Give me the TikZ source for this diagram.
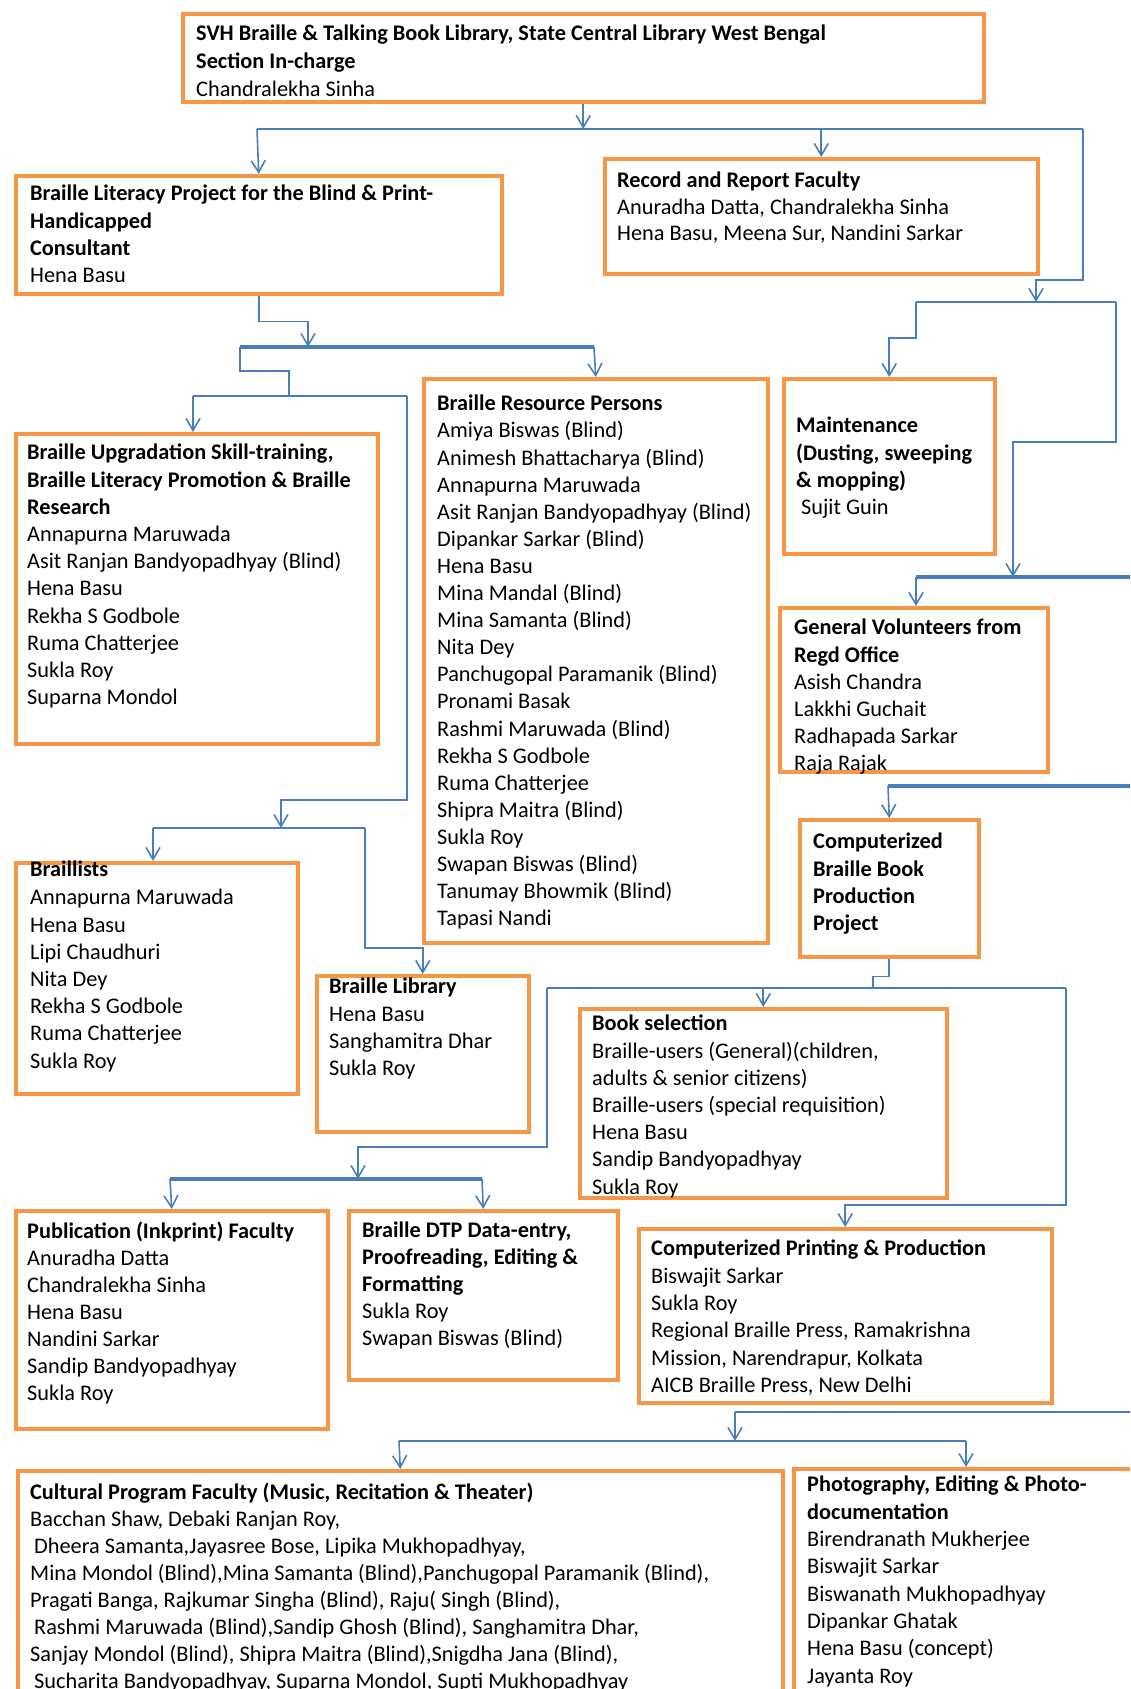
\documentclass[tikz,border=0pt]{standalone}
\usepackage{fontspec}
\setmainfont{Carlito}
\usetikzlibrary{positioning,arrows.meta}
\definecolor{boxorange}{HTML}{F79646}
\definecolor{linkblue}{HTML}{4A7EBB}
\tikzset{dbox/.style={draw=boxorange, line width=3.5pt, anchor=north west, inner sep=0pt}}
\tikzset{dtxt/.style={anchor=north west, yshift=19pt, align=left, inner sep=0pt,
  font=\fontsize{22.3}{27.2}\selectfont, execute at begin node=\strut}}
\tikzset{arr/.style={draw=linkblue, line width=1.6pt}}
\tikzset{bar/.style={draw=linkblue, line width=3.4pt}}

\begin{document}
\begin{tikzpicture}[x=1pt, y=-1pt, >={Straight Barb[length=12pt,width=14pt]}]
\useasboundingbox (0,0) rectangle (1130,1689);
\clip (0,0) rectangle (1130,1689);
% boxes
\node[dbox, minimum width=801, minimum height=88] (SVH) at (181,12) {};
\node[dbox, minimum width=486, minimum height=118] (BLP) at (14,174) {};
\node[dbox, minimum width=433, minimum height=115] (RRF) at (603,157) {};
\node[dbox, minimum width=362, minimum height=310] (BU) at (14,432) {};
\node[dbox, minimum width=344, minimum height=564] (BRP) at (422,377) {};
\node[dbox, minimum width=211, minimum height=175] (MNT) at (782,377) {};
\node[dbox, minimum width=268, minimum height=164] (GV) at (778,606) {};
\node[dbox, minimum width=179, minimum height=137] (CBB) at (798,818) {};
\node[dbox, minimum width=282, minimum height=231] (BRL) at (14,861) {};
\node[dbox, minimum width=212, minimum height=156] (BLIB) at (315,974) {};
\node[dbox, minimum width=367, minimum height=189] (BS) at (578,1007) {};
\node[dbox, minimum width=312, minimum height=218] (PUB) at (14,1209) {};
\node[dbox, minimum width=269, minimum height=169] (DTP) at (347,1209) {};
\node[dbox, minimum width=413, minimum height=174] (CP) at (637,1227) {};
\node[dbox, minimum width=765, minimum height=300] (CPF) at (16,1469) {};
\node[dbox, minimum width=400, minimum height=300] (PHO) at (792,1467) {};
%
\node[dtxt, font=\fontsize{22.3}{28}\selectfont] (SVH-t) at ([shift={(15,32)}]SVH.north west)
  {\textbf{SVH Braille \& Talking Book Library, State Central Library West Bengal}\\
   \textbf{Section In-charge}\\ Chandralekha Sinha};
\node[dtxt] (BLP-t) at ([shift={(16,30)}]BLP.north west)
  {\textbf{Braille Literacy Project for the Blind \& Print-}\\ \textbf{Handicapped}\\
   \textbf{Consultant}\\ Hena Basu};
\node[dtxt, font=\fontsize{22.3}{26.5}\selectfont] (RRF-t) at ([shift={(14,34)}]RRF.north west)
  {\textbf{Record and Report Faculty}\\ Anuradha Datta, Chandralekha Sinha\\
   Hena Basu, Meena Sur, Nandini Sarkar};
\node[dtxt] (BU-t) at ([shift={(13,31)}]BU.north west)
  {\textbf{Braille Upgradation Skill-training,}\\ \textbf{Braille Literacy Promotion \& Braille}\\
   \textbf{Research}\\ Annapurna Maruwada\\ Asit Ranjan Bandyopadhyay (Blind)\\ Hena Basu\\
   Rekha S Godbole\\ Ruma Chatterjee\\ Sukla Roy\\ Suparna Mondol};
\node[dtxt, font=\fontsize{22.3}{27.1}\selectfont] (BRP-t) at ([shift={(15,37)}]BRP.north west)
  {\textbf{Braille Resource Persons}\\ Amiya Biswas (Blind)\\ Animesh Bhattacharya (Blind)\\
   Annapurna Maruwada\\ Asit Ranjan Bandyopadhyay (Blind)\\ Dipankar Sarkar (Blind)\\
   Hena Basu\\ Mina Mandal (Blind)\\ Mina Samanta (Blind)\\ Nita Dey\\
   Panchugopal Paramanik (Blind)\\ Pronami Basak\\ Rashmi Maruwada (Blind)\\
   Rekha S Godbole\\ Ruma Chatterjee\\ Shipra Maitra (Blind)\\ Sukla Roy\\
   Swapan Biswas (Blind)\\ Tanumay Bhowmik (Blind)\\ Tapasi Nandi};
\node[dtxt] (MNT-t) at ([shift={(14,59)}]MNT.north west)
  {\textbf{Maintenance}\\ \textbf{(Dusting, sweeping}\\ \textbf{\& mopping)}\\ \hspace{5pt}Sujit Guin};
\node[dtxt] (GV-t) at ([shift={(16,32)}]GV.north west)
  {\textbf{General Volunteers from}\\ \textbf{Regd Office}\\ Asish Chandra\\ Lakkhi Guchait\\
   Radhapada Sarkar\\ Raja Rajak};
\node[dtxt] (CBB-t) at ([shift={(15,34)}]CBB.north west)
  {\textbf{Computerized}\\ \textbf{Braille Book}\\ \textbf{Production}\\ \textbf{Project}};
\node[dtxt] (BRL-t) at ([shift={(16,19)}]BRL.north west)
  {\textbf{Braillists}\\[0.8pt] Annapurna Maruwada\\ Hena Basu\\ Lipi Chaudhuri\\ Nita Dey\\
   Rekha S Godbole\\ Ruma Chatterjee\\ Sukla Roy};
\node[dtxt] (BLIB-t) at ([shift={(14,23)}]BLIB.north west)
  {\textbf{Braille Library}\\ Hena Basu\\ Sanghamitra Dhar\\ Sukla Roy};
\node[dtxt] (BS-t) at ([shift={(14,27)}]BS.north west)
  {\textbf{Book selection}\\ Braille-users (General)(children,\\ adults \& senior citizens)\\
   Braille-users (special requisition)\\ Hena Basu\\ Sandip Bandyopadhyay\\ Sukla Roy};
\node[dtxt, font=\fontsize{22.3}{26.9}\selectfont] (PUB-t) at ([shift={(13,32)}]PUB.north west)
  {\textbf{Publication (Inkprint) Faculty}\\ Anuradha Datta\\ Chandralekha Sinha\\ Hena Basu\\
   Nandini Sarkar\\ Sandip Bandyopadhyay\\ Sukla Roy};
\node[dtxt, font=\fontsize{22.3}{26.9}\selectfont] (DTP-t) at ([shift={(15,32)}]DTP.north west)
  {\textbf{Braille DTP Data-entry,}\\ \textbf{Proofreading, Editing \&}\\ \textbf{Formatting}\\
   Sukla Roy\\ Swapan Biswas (Blind)};
\node[dtxt, font=\fontsize{22.3}{27.3}\selectfont] (CP-t) at ([shift={(14,32)}]CP.north west)
  {\textbf{Computerized Printing \& Production}\\ Biswajit Sarkar\\ Sukla Roy\\
   Regional Braille Press, Ramakrishna\\ Mission, Narendrapur, Kolkata\\ AICB Braille Press, New Delhi};
\node[dtxt, font=\fontsize{22.3}{27}\selectfont] (CPF-t) at ([shift={(14,33)}]CPF.north west)
  {\textbf{Cultural Program Faculty (Music, Recitation \& Theater)}\\
   Bacchan Shaw, Debaki Ranjan Roy,\\
   \hspace{4pt}Dheera Samanta,Jayasree Bose, Lipika Mukhopadhyay,\\
   Mina Mondol (Blind),Mina Samanta (Blind),Panchugopal Paramanik (Blind),\\
   Pragati Banga, Rajkumar Singha (Blind), Raju( Singh (Blind),\\
   \hspace{4pt}Rashmi Maruwada (Blind),Sandip Ghosh (Blind), Sanghamitra Dhar,\\
   Sanjay Mondol (Blind), Shipra Maitra (Blind),Snigdha Jana (Blind),\\
   \hspace{4pt}Sucharita Bandyopadhyay, Suparna Mondol, Supti Mukhopadhyay};
\node[dtxt, font=\fontsize{22.3}{27.3}\selectfont] (PHO-t) at ([shift={(15,28)}]PHO.north west)
  {\textbf{Photography, Editing \& Photo-}\\ \textbf{documentation}\\ Birendranath Mukherjee\\
   Biswajit Sarkar\\ Biswanath Mukhopadhyay\\ Dipankar Ghatak\\ Hena Basu (concept)\\ Jayanta Roy};
% junction points
\coordinate (b1w) at (257,129);  \coordinate (b1e) at (1083,129);
\coordinate (b2w) at (916,302);  \coordinate (b2e) at (1116,302); \coordinate (b2m) at (1036,302);
\coordinate (b3w) at (916,577);  \coordinate (b3e) at (1140,577); \coordinate (b3m) at (1013,577);
\coordinate (b4w) at (888,786);  \coordinate (b4e) at (1140,786);
\coordinate (b5w) at (547,988);  \coordinate (b5e) at (1066,988); \coordinate (b5m) at (873,988);
\coordinate (b6w) at (170,1179); \coordinate (b6e) at (482,1179); \coordinate (b6m) at (358,1179);
\coordinate (b7w) at (735,1412); \coordinate (b7e) at (1140,1412);
\coordinate (b8w) at (399,1441); \coordinate (b8e) at (966,1441); \coordinate (b8m) at (735,1441);
\coordinate (b9w) at (240,347);  \coordinate (b9e) at (594,347);  \coordinate (b9m) at (308,347);
\coordinate (b10w) at (193,396); \coordinate (b10e) at (407,396); \coordinate (b10m) at (289,396);
\coordinate (b11w) at (153,828); \coordinate (b11e) at (365,828); \coordinate (b11m) at (281,828);
% connectors
\draw[arr] (b1w) -- (b1e);
\draw[arr, ->] (SVH.south) -- (SVH.south |- b1w);
\draw[arr, ->] (b1w) -- (BLP.north);
\draw[arr, ->] (RRF.north |- b1w) -- (RRF.north);
\draw[arr, ->] (b1e) -- ++(0,151) -| (b2m);
\draw[arr] (b2w) -- (b2e);
\draw[arr, ->] (b2w) -- ++(0,36) -| (MNT.north);
\draw[arr, ->] (b2e) -- ++(0,140) -| (b3m);
\draw[bar] (b3w) -- (b3e);
\draw[arr, ->] (b3w) -- (b3w |- GV.north);
\draw[bar] (b4w) -- (b4e);
\draw[arr, ->] (b4w) -- (CBB.north);
\draw[arr] (CBB.south) -- ++(0,18) -| (b5m);
\draw[arr] (b5w) -- (b5e);
\draw[arr, ->] (BS.north |- b5w) -- (BS.north);
\draw[arr, ->] (b5w) -- ++(0,159) -| (b6m);
\draw[bar] (b6w) -- (b6e);
\draw[arr, ->] (b6w) -- (PUB.north);
\draw[arr, ->] (b6e) -- (DTP.north);
\draw[arr, ->] (b5e) -- ++(0,217) -| (CP.north);
\draw[arr] (b7w) -- (b7e);
\draw[arr, ->] (b7w) -- (b8m);
\draw[arr] (b8w) -- (b8e);
\draw[arr, ->] (b8w) -- (CPF.north);
\draw[arr, ->] (b8e) -- (b8e |- PHO.north);
\draw[arr, ->] (BLP.south) -- ++(0,26) -| (b9m);
\draw[bar] (b9w) -- (b9e);
\draw[arr, ->] (b9e) -- (BRP.north);
\draw[arr] (b9w) -- ++(0,24) -| (b10m);
\draw[arr] (b10w) -- (b10e);
\draw[arr, ->] (b10w) -- (b10w |- BU.north);
\draw[arr, ->] (b10e) -- ++(0,404) -| (b11m);
\draw[arr] (b11w) -- (b11e);
\draw[arr, ->] (b11w) -- (b11w |- BRL.north);
\draw[arr, ->] (b11e) -- ++(0,120) -| (BLIB.north);
\end{tikzpicture}
\end{document}
